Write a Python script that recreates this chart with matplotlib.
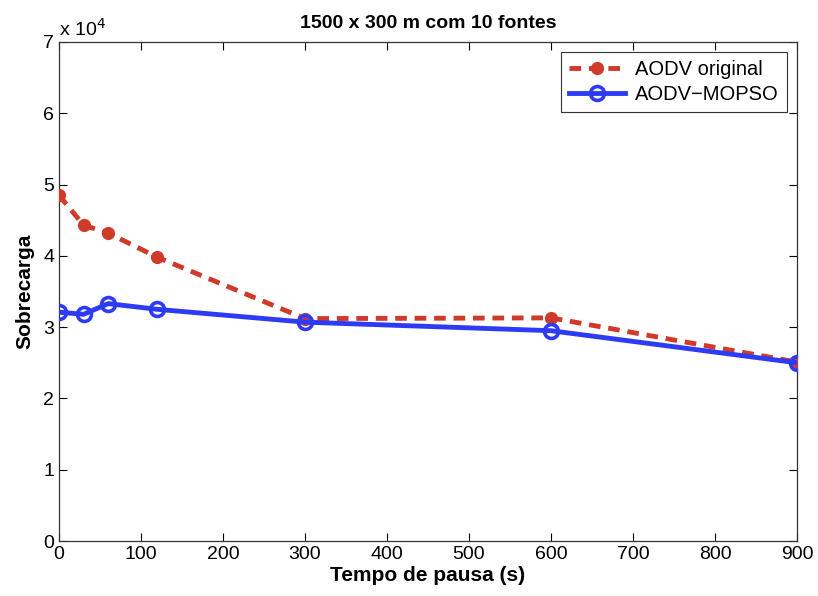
import matplotlib
matplotlib.use("Agg")
import matplotlib.pyplot as plt
from matplotlib.ticker import FuncFormatter, MultipleLocator

plt.rcParams['font.family'] = ['Liberation Sans', 'DejaVu Sans']

pause_times = [0, 30, 60, 120, 300, 600, 900]
aodv_original = [48500, 44300, 43200, 39800, 31200, 31300, 25100]
aodv_mopso = [32100, 31800, 33300, 32500, 30700, 29500, 25000]

title = "1500 x 300 m com 10 fontes"
xlabel = "Tempo de pausa (s)"
ylabel = "Sobrecarga"
labels = ["AODV original", "AODV\u2212MOPSO"]

fig = plt.figure(figsize=(8.18, 5.96), dpi=100)
ax = fig.add_axes([59/818, 55/596, (797-59)/818, (541-42)/596])

red = '#D03A2A'
blue = '#2E3BF5'
ax.plot(pause_times, aodv_original, linestyle=(0, (2.4, 1.6)), color=red, lw=3.5,
        marker='o', markersize=8.5, markerfacecolor=red, markeredgecolor=red,
        label=labels[0], zorder=3)
ax.plot(pause_times, aodv_mopso, linestyle='-', color=blue, lw=3.5,
        marker='o', markersize=10, markerfacecolor='none', markeredgecolor=blue,
        markeredgewidth=2.6, label=labels[1], zorder=4)

ax.set_xlim(0, 900)
ax.set_ylim(0, 70000)
ax.xaxis.set_major_locator(MultipleLocator(100))
ax.yaxis.set_major_locator(MultipleLocator(10000))
ax.yaxis.set_major_formatter(FuncFormatter(lambda v, p: f"{v/1e4:g}"))
ax.tick_params(direction='in', top=True, right=True, labelsize=14, length=6, width=0.8)
for s in ax.spines.values():
    s.set_linewidth(0.9)
    s.set_color('#333333')

ax.text(0.0, 1.005, r"x 10$^4$", transform=ax.transAxes, fontsize=14,
        ha='left', va='bottom')
ax.set_title(title, fontsize=14, fontweight='bold', pad=10)
ax.set_xlabel(xlabel, fontsize=15, fontweight='bold', labelpad=2)
ax.set_ylabel(ylabel, fontsize=15, fontweight='bold', labelpad=6)

leg = ax.legend(loc='upper right', fontsize=14.5, fancybox=False, framealpha=1,
                edgecolor='#333333', handlelength=2.8, borderaxespad=0.5,
                labelspacing=0.3, borderpad=0.4, handletextpad=0.5)
leg.get_frame().set_linewidth(0.8)

fig.savefig("out.png", dpi=100)
